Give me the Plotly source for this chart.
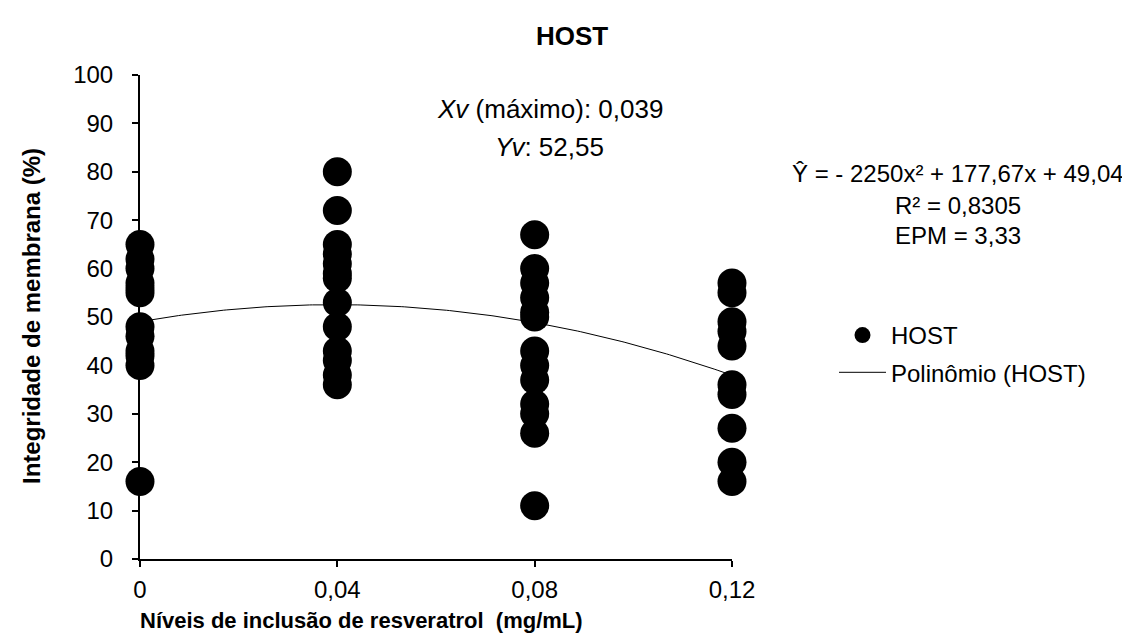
import numpy as np
import plotly.graph_objects as go

# Data
levels = [0, 0.04, 0.08, 0.12]
tick_labels = ["0", "0,04", "0,08", "0,12"]
host_0 = [65, 62, 60, 57, 56, 55, 48, 46, 43, 42, 40, 16]
host_004 = [80, 72, 65, 63, 61, 59, 58, 53, 48, 43, 41, 38, 36]
host_008 = [67, 60, 57, 54, 51, 50, 43, 40, 37, 32, 30, 26, 11]
host_012 = [57, 55, 49, 47, 44, 36, 34, 27, 20, 16]
poly_coef = [-2250, 177.67, 49.04]  # a, b, c of fitted quadratic

groups = [host_0, host_004, host_008, host_012]
xs, ys = [], []
for lv, g in zip(levels, groups):
    xs += [lv] * len(g)
    ys += g

xfit = np.linspace(levels[0], levels[-1], 200)
yfit = np.polyval(poly_coef, xfit)

FONT = "Liberation Sans, Arial, sans-serif"

# plot area in pixels
L, R, T, B = 132, 724, 67, 551
W, H = 1130, 637
def px(x):
    return (x - L) / (R - L)
def py(y):
    return (B - y) / (B - T)

fig = go.Figure()
fig.add_trace(go.Scatter(
    x=xs, y=ys, mode="markers", name="HOST",
    marker=dict(color="black", size=29),
    cliponaxis=False, legendgroup="a",
))
fig.add_trace(go.Scatter(
    x=xfit, y=yfit, mode="lines", name="Polinômio (HOST)",
    line=dict(color="black", width=1),
    cliponaxis=False, legendgroup="b",
))

fig.update_layout(
    width=W, height=H,
    paper_bgcolor="white", plot_bgcolor="white",
    margin=dict(l=L, r=W - R, t=T, b=H - B),
    font=dict(family=FONT, size=24, color="black"),
    title=dict(text="<b>HOST</b>", x=564 / W, xanchor="center", y=1 - 28 / H,
               yanchor="middle", font=dict(size=26, family=FONT)),
    showlegend=True,
    legend=dict(x=px(826), y=py(305), xanchor="left", yanchor="top",
                font=dict(size=24, family=FONT), tracegroupgap=3,
                traceorder="grouped", bgcolor="rgba(0,0,0,0)", itemwidth=47,
                itemsizing="trace"),
)
fig.update_xaxes(
    range=[0, 0.12], tickvals=levels, ticktext=tick_labels,
    showline=True, linecolor="black", linewidth=2, showgrid=False, zeroline=False,
    ticks="outside", ticklen=6, tickwidth=2, tickcolor="black",
    tickfont=dict(size=24), layer="below traces", ticklabelstandoff=2,
)
fig.update_yaxes(
    range=[0, 100], dtick=10,
    showline=True, linecolor="black", linewidth=2, showgrid=False, zeroline=False,
    ticks="outside", ticklen=6, tickwidth=2, tickcolor="black",
    tickfont=dict(size=24), layer="below traces", ticklabelstandoff=14,
)

fig.add_annotation(text="<b>Integridade de membrana (%)</b>", textangle=-90,
                   xref="paper", yref="paper", x=px(23), y=py(308),
                   xanchor="center", yanchor="middle", showarrow=False,
                   font=dict(size=24))
fig.add_annotation(text="<b>Níveis de inclusão de resveratrol&nbsp;&nbsp;(mg/mL)</b>",
                   xref="paper", yref="paper", x=px(130), y=py(612), xanchor="left",
                   yanchor="middle", showarrow=False, font=dict(size=22))
fig.add_annotation(text="<i>Xv</i> (máximo): 0,039",
                   xref="paper", yref="paper", x=px(542), y=py(101), xanchor="center",
                   yanchor="middle", showarrow=False, font=dict(size=26))
fig.add_annotation(text="<i>Yv</i>: 52,55",
                   xref="paper", yref="paper", x=px(541), y=py(139), xanchor="center",
                   yanchor="middle", showarrow=False, font=dict(size=26))
eq_lines = ["Ŷ = - 2250x² + 177,67x + 49,04", "R² = 0,8305", "EPM = 3,33"]
for txt, yy in zip(eq_lines, [165, 197, 227]):
    fig.add_annotation(text=txt, xref="paper", yref="paper", x=px(950), y=py(yy),
                       xanchor="center", yanchor="middle", showarrow=False,
                       font=dict(size=24))

fig.write_html("out.html")
